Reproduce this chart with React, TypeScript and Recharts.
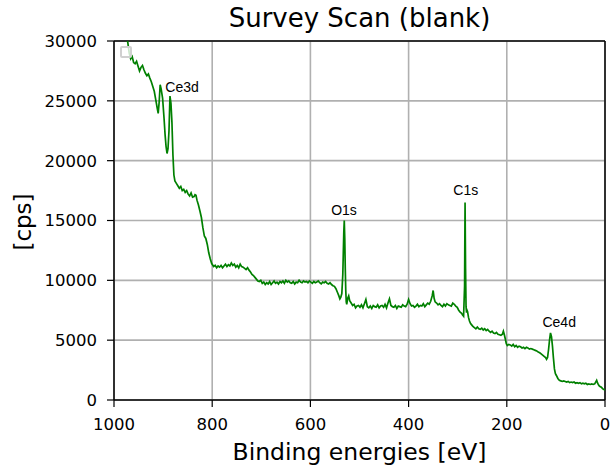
import React from 'react';
import {
  LineChart,
  Line,
  XAxis,
  YAxis,
  CartesianGrid,
  ReferenceLine,
  ReferenceDot,
} from 'recharts';

// Binding energies [eV]
const energies = [
  1000, 992, 985, 978, 972, 969, 966, 963, 960, 957, 954, 951, 948, 945, 942, 939, 936, 933, 930, 927,
  924, 921, 918, 915, 912, 910, 908, 906, 904, 901, 898, 896, 894, 892, 890, 888, 886, 884, 882, 880,
  878, 876, 873, 870, 867, 864, 861, 858, 855, 852, 849, 846, 843, 840, 837, 835, 833, 831, 828, 825,
  822, 819, 816, 813, 810, 807, 804, 801, 797, 794, 791, 788, 785, 782, 779, 776, 773, 770, 767, 764,
  761, 758, 755, 752, 749, 746, 743, 740, 737, 734, 731, 728, 725, 722, 719, 716, 713, 710, 707, 704,
  701, 698, 695, 692, 689, 686, 683, 680, 677, 674, 671, 668, 665, 662, 659, 656, 653, 650, 647, 644,
  641, 638, 635, 632, 629, 626, 623, 620, 617, 614, 611, 608, 605, 602, 599, 596, 593, 590, 587, 584,
  581, 578, 575, 572, 569, 566, 563, 560, 557, 554, 551, 548, 545, 542, 540, 538, 536, 534, 532, 531,
  530, 529, 528, 527, 526, 524, 522, 520, 517, 514, 511, 508, 505, 502, 499, 496, 493, 490, 487, 484,
  481, 478, 475, 472, 469, 466, 463, 460, 457, 454, 451, 448, 445, 442, 439, 436, 433, 430, 427, 424,
  421, 418, 415, 412, 409, 406, 403, 400, 397, 394, 391, 388, 385, 382, 379, 376, 373, 370, 367, 364,
  361, 358, 355, 352, 350, 348, 346, 343, 340, 337, 334, 331, 328, 325, 322, 319, 316, 313, 310, 307,
  304, 301, 298, 295, 292, 290, 288, 286, 285, 284, 283, 282, 281, 280, 278, 276, 274, 272, 269, 266,
  263, 260, 257, 254, 251, 248, 245, 242, 239, 236, 233, 230, 227, 224, 221, 218, 215, 212, 209, 207,
  205, 203, 201, 199, 196, 193, 190, 187, 184, 181, 178, 175, 172, 169, 166, 163, 160, 157, 154, 151,
  148, 145, 142, 139, 136, 133, 130, 127, 124, 121, 119, 117, 115, 113, 111, 109, 107, 105, 103, 101,
  99, 96, 93, 90, 87, 84, 81, 78, 75, 72, 69, 66, 63, 60, 57, 54, 51, 48, 45, 42,
  39, 36, 33, 30, 27, 24, 21, 19, 17, 15, 13, 11, 9, 7, 5, 3, 1, 0,
];

// Intensity [cps]
const counts = [
  33800, 32800, 31800, 30800, 29900, 29000, 28500, 28700, 28200, 28100, 28300, 27900, 27500, 27800, 27950, 27600, 27300, 27100, 27250, 26900,
  26600, 26200, 25800, 25100, 24400, 23950, 24900, 26350, 26000, 25200, 23500, 22200, 21200, 20600, 21000, 22500, 25400, 24800, 23200, 20500,
  18800, 18300, 18100, 17900, 17700, 17850, 17500, 17600, 17350, 17500, 17200, 17050, 17300, 16950, 17000, 17150, 17100, 16700, 16300, 15800,
  15250, 14400, 13700, 13500, 13000, 12300, 11800, 11400, 11150, 11250, 11050, 11200, 11100, 11250, 11050, 11200, 11350, 11150, 11300, 11200,
  11450, 11250, 11350, 11100, 11250, 11050, 11350, 11150, 11100, 11000, 10900, 11050, 10850, 10700, 10500, 10400, 10250, 10100, 9950, 9900,
  10000, 9750, 9850, 9650, 9800, 9700, 9900, 9650, 9800, 9950, 9750, 9850, 9700, 9900, 9800, 9950, 9750, 10000, 9850, 9950,
  9800, 9750, 9900, 9700, 9850, 9800, 10000, 9850, 9800, 9950, 9850, 9900, 9800, 9950, 9850, 9750, 9900, 9800, 9850, 9950,
  9800, 9700, 9850, 9800, 9900, 9750, 9700, 9800, 9650, 9550, 9500, 9300, 9000, 8700, 8450, 8600, 8900, 10500, 14000, 15000,
  13500, 11000, 9200, 8200, 8000, 8500, 8700, 8300, 8100, 7900, 8000, 7700, 7850, 7900, 7750, 7950, 7700, 8050, 8400, 7800,
  7700, 7850, 7650, 7900, 7800, 7750, 7950, 7700, 7850, 7900, 7750, 8000, 7700, 8100, 8450, 7900, 7800, 7750, 7900, 7650,
  7850, 7800, 7750, 7950, 7850, 7800, 8000, 8400, 8050, 7850, 7900, 7750, 7850, 8000, 7800, 7900, 7850, 8050, 7800, 7950,
  8100, 8000, 8250, 8700, 9150, 8500, 8200, 8100, 7950, 8050, 7900, 7800, 8000, 7850, 8050, 7950, 7900, 7850, 8100, 8000,
  7850, 7750, 7500, 7350, 7250, 7100, 7000, 9500, 16500, 11000, 7800, 7300, 7500, 7400, 6900, 6600, 6400, 6300, 6150, 6050,
  5950, 6100, 5950, 5900, 6000, 5850, 5950, 5800, 5900, 5750, 5650, 5750, 5600, 5550, 5650, 5500, 5450, 5400, 5500, 5750,
  5450, 5100, 4700, 4550, 4650, 4600, 4500, 4650, 4450, 4550, 4400, 4500, 4450, 4350, 4400, 4300, 4400, 4350, 4250, 4300,
  4250, 4200, 4150, 4100, 4000, 3950, 3850, 3750, 3650, 3550, 3400, 3550, 4200, 5000, 5600, 5300, 4500, 3500, 2600, 2200,
  2050, 1800, 1650, 1600, 1550, 1600, 1550, 1500, 1550, 1450, 1500, 1450, 1500, 1400, 1450, 1400, 1450, 1350, 1400, 1350,
  1400, 1300, 1350, 1300, 1350, 1300, 1350, 1500, 1650, 1400, 1250, 1150, 1100, 1050, 950, 900, 850, 800,
];

const xTicks = [1000, 800, 600, 400, 200, 0];
const yTicks = [0, 5000, 10000, 15000, 20000, 25000, 30000];

// Peak annotations (label, energy, cps at text baseline)
const peakLabels = ['Ce3d', 'O1s', 'C1s', 'Ce4d'];
const peakEnergies = [861.5, 531.6, 283.5, 93.3];
const peakLabelCps = [25740, 15460, 17130, 6075];

const data = energies.map((e, i) => ({ e, cps: counts[i] }));

const FONT = "'DejaVu Sans', sans-serif";

export default function App() {
  return (
    <div
      style={{
        position: 'absolute',
        left: 0,
        top: 0,
        width: 610,
        height: 468,
        background: '#fff',
        overflow: 'hidden',
      }}
    >
      <LineChart
        width={610}
        height={468}
        data={data}
        margin={{ top: 41, right: 5, bottom: 0, left: 0 }}
      >
        <CartesianGrid stroke="#b0b0b0" strokeWidth={1.6} />
        <XAxis
          type="number"
          dataKey="e"
          domain={[0, 1000]}
          reversed
          ticks={xTicks}
          interval={0}
          allowDataOverflow
          height={68}
          tickSize={7}
          tickMargin={11}
          axisLine={{ stroke: '#000', strokeWidth: 1.5 }}
          tickLine={{ stroke: '#000', strokeWidth: 1.2 }}
          tick={{ fill: '#000', fontSize: 16.5, fontFamily: FONT }}
          label={{
            content: () => (
              <text
                x={359.5}
                y={460}
                textAnchor="middle"
                fontFamily={FONT}
                fontSize={23.5}
                fill="#000"
              >
                Binding energies [eV]
              </text>
            ),
          }}
        />
        <YAxis
          type="number"
          domain={[0, 30000]}
          ticks={yTicks}
          interval={0}
          allowDataOverflow
          width={114}
          tickSize={7}
          tickMargin={10}
          axisLine={{ stroke: '#000', strokeWidth: 1.5 }}
          tickLine={{ stroke: '#000', strokeWidth: 1.2 }}
          tick={{ fill: '#000', fontSize: 16.5, fontFamily: FONT }}
          label={{
            content: () => (
              <text
                x={23}
                y={222}
                transform="rotate(-90, 23, 222)"
                textAnchor="middle"
                dominantBaseline="central"
                fontFamily={FONT}
                fontSize={23}
                fill="#000"
              >
                [cps]
              </text>
            ),
          }}
        />
        <ReferenceLine y={30000} stroke="#000" strokeWidth={1.5} />
        <ReferenceLine x={0} stroke="#000" strokeWidth={1.5} />
        <Line
          type="linear"
          dataKey="cps"
          stroke="#008000"
          strokeWidth={1.7}
          dot={false}
          isAnimationActive={false}
        />
        {peakLabels.map((lab, i) => (
          <ReferenceDot
            key={lab}
            x={peakEnergies[i]}
            y={peakLabelCps[i]}
            r={0}
            shape={(p: any) => (
              <text
                x={p.cx}
                y={p.cy}
                textAnchor="middle"
                fontFamily="'Liberation Sans', Arial, sans-serif"
                fontSize={14}
                fill="#000"
              >
                {lab}
              </text>
            )}
          />
        ))}
      </LineChart>
      <div
        style={{
          position: 'absolute',
          left: 114,
          top: 0,
          width: 491,
          textAlign: 'center',
          fontFamily: FONT,
          fontSize: 26,
          lineHeight: '26px',
          paddingTop: 5,
          color: '#000',
        }}
      >
        Survey Scan (blank)
      </div>
      <div
        style={{
          position: 'absolute',
          left: 120,
          top: 46,
          width: 12,
          height: 12,
          boxSizing: 'border-box',
          border: '2px solid #d0d0d0',
          borderRadius: 2,
          background: 'rgba(255,255,255,0.8)',
        }}
      />
    </div>
  );
}
